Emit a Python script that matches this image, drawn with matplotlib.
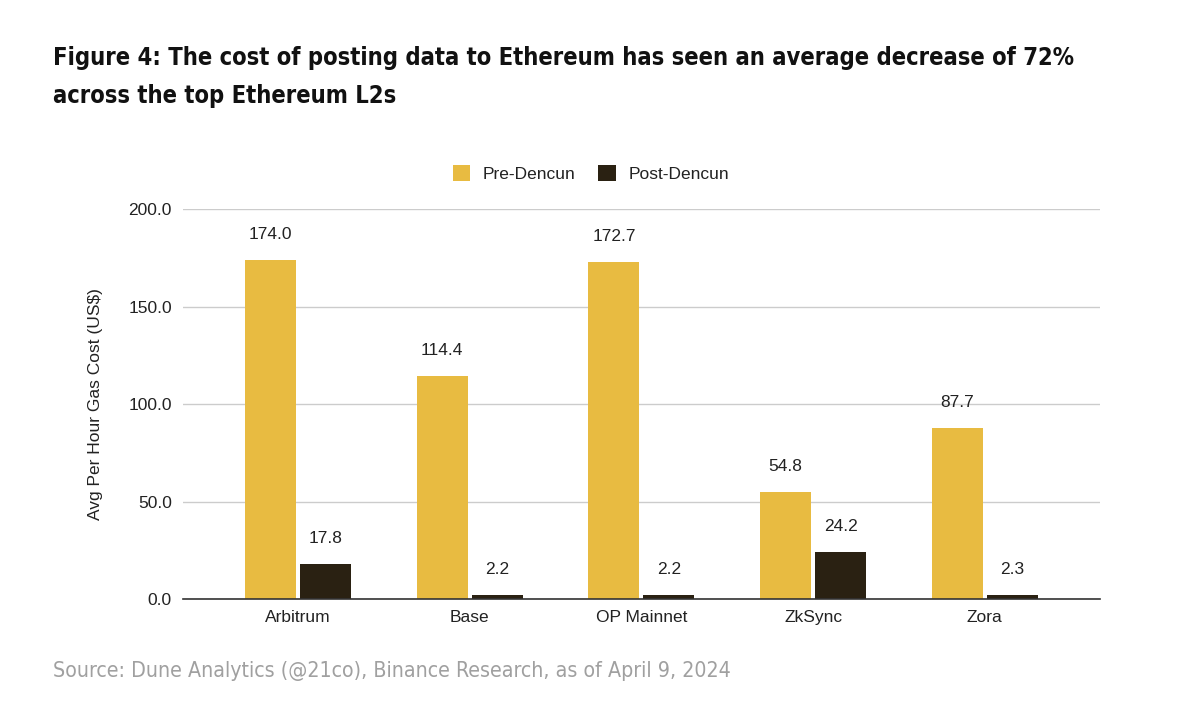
import matplotlib

matplotlib.use("Agg")

import matplotlib.pyplot as plt
import numpy as np

# data -----------------------------------------------------------------------
chains = ["Arbitrum", "Base", "OP Mainnet", "ZkSync", "Zora"]
pre_dencun = [174.0, 114.4, 172.7, 54.8, 87.7]
post_dencun = [17.8, 2.2, 2.2, 24.2, 2.3]
y_ticks = [0, 50, 100, 150, 200]

PRE_COLOR = "#E8BB41"
POST_COLOR = "#2A2112"
TEXT = "#222222"

plt.rcParams["font.family"] = ["Liberation Sans", "DejaVu Sans"]

fig = plt.figure(figsize=(12, 7.04), dpi=100)
ax = fig.add_axes([0.1525, 0.149, 0.764, 0.554])

x = np.arange(len(chains))
w = 0.297
off = 0.16
b1 = ax.bar(x - off, pre_dencun, w, color=PRE_COLOR, label="Pre-Dencun", zorder=3)
b2 = ax.bar(x + off, post_dencun, w, color=POST_COLOR, label="Post-Dencun", zorder=3)

for bars in (b1, b2):
    for rect in bars:
        h = rect.get_height()
        ax.annotate(f"{h:.1f}", (rect.get_x() + rect.get_width() / 2, h),
                    xytext=(0, 13), textcoords="offset points",
                    ha="center", va="bottom", fontsize=12.5, color=TEXT)

ax.set_xlim(-0.67, len(chains) - 1 + 0.67)
ax.set_ylim(0, 200)
ax.set_yticks(y_ticks)
ax.set_yticklabels([f"{v:.1f}" for v in y_ticks])
ax.set_xticks(x)
ax.set_xticklabels(chains)
ax.tick_params(axis="both", length=0, labelsize=12.5, colors=TEXT)
ax.tick_params(axis="y", pad=8)
ax.tick_params(axis="x", pad=8)
ax.grid(axis="y", color="#cccccc", linewidth=1, zorder=0)
for s in ["top", "right", "left"]:
    ax.spines[s].set_visible(False)
ax.spines["bottom"].set_color("#333333")
ax.spines["bottom"].set_linewidth(1.2)
ax.spines["bottom"].set_zorder(4)
ax.set_ylabel("Avg Per Hour Gas Cost (US$)", fontsize=12.5, color=TEXT, labelpad=18)

# legend sits a bit left of the plot centre in the original
ax.legend(loc="lower center", bbox_to_anchor=(0.445, 1.03), ncol=2, frameon=False,
          fontsize=12.5, handlelength=1.0, handleheight=1.0, columnspacing=1.3,
          handletextpad=0.75, labelcolor=TEXT)

fig.text(0.044, 0.935,
         "Figure 4: The cost of posting data to Ethereum has seen an average decrease of 72%\n"
         "across the top Ethereum L2s",
         fontsize=17, fontweight="bold", fontstretch="condensed", family="DejaVu Sans",
         ha="left", va="top", linespacing=1.75, color="#111111")

fig.text(0.044, 0.032, "Source: Dune Analytics (@21co), Binance Research, as of April 9, 2024",
         fontsize=15.3, fontstretch="condensed", family="DejaVu Sans",
         color="#a0a0a0", ha="left", va="bottom")

fig.savefig("out.png", dpi=100, facecolor="white")
